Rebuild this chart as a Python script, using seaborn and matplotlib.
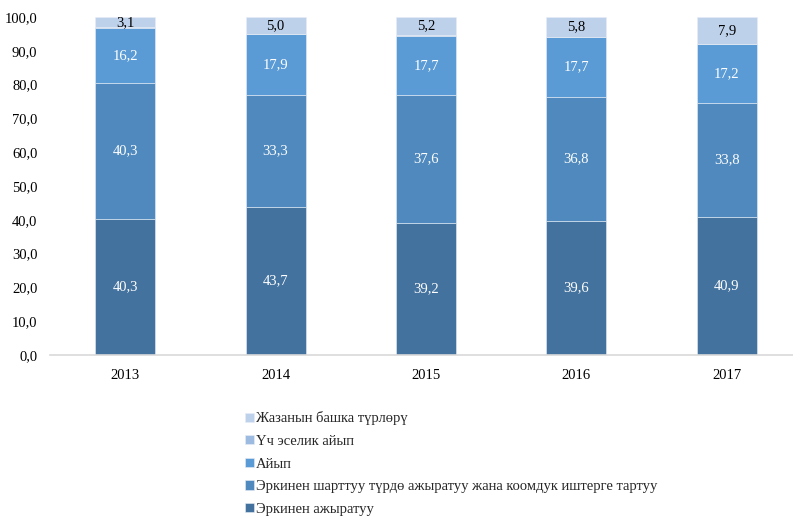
import matplotlib
matplotlib.use("Agg")
import matplotlib.pyplot as plt
import numpy as np
import pandas as pd
import seaborn as sns

years = ["2013", "2014", "2015", "2016", "2017"]

# серии снизу вверх
series_names = [
    "Эркинен ажыратуу",
    "Эркинен шарттуу түрдө ажыратуу жана коомдук иштерге тартуу",
    "Айып",
    "Үч эселик айып",
    "Жазанын башка түрлөрү",
]
deprivation = [40.3, 43.7, 39.2, 39.6, 40.9]
conditional = [40.3, 33.3, 37.6, 36.8, 33.8]
fine = [16.2, 17.9, 17.7, 17.7, 17.2]
triple_fine = [0.1, 0.1, 0.3, 0.1, 0.2]
other = [3.1, 5.0, 5.2, 5.8, 7.9]

colors = ["#43729E", "#4F89BD", "#5A9BD5", "#9DBAE0", "#BDD1EA"]
label_colors = ["white", "white", "white", None, "black"]

sns.set_theme(style="white")
plt.rcParams["font.family"] = ["Liberation Serif", "DejaVu Serif"]

fig = plt.figure(figsize=(7.93, 5.2), dpi=100)
ax = fig.add_axes([50 / 793, 165 / 520, 752 / 793, 338 / 520])

bottom = np.zeros(len(years))
for name, vals, col, lcol in zip(series_names,
                                 [deprivation, conditional, fine, triple_fine, other],
                                 colors, label_colors):
    df = pd.DataFrame({"year": years, "value": vals})
    sns.barplot(data=df, x="year", y="value", order=years, color=col,
                errorbar=None, width=0.4, bottom=bottom, label=name,
                edgecolor="#E8EEF6", linewidth=0.4, saturation=1, ax=ax)
    cont = ax.containers[-1]
    if lcol is not None:
        ax.bar_label(cont, labels=[f"{v:.1f}".replace(".", ",") for v in vals],
                     label_type="center", color=lcol, fontsize=10.5)
    bottom = bottom + np.array(vals)

ax.set_ylim(0, 100)
ax.set_xlim(-0.5, 4.5)
ax.set_yticks(np.arange(0, 101, 10))
ax.set_yticklabels([f"{t:.1f}".replace(".", ",") for t in np.arange(0, 101, 10)])
ax.tick_params(axis="both", labelsize=10.5, length=0, colors="black")
ax.tick_params(axis="y", pad=9)
ax.tick_params(axis="x", pad=10)
ax.set_xlabel("")
ax.set_ylabel("")
for s in ["top", "right", "left"]:
    ax.spines[s].set_visible(False)
ax.spines["bottom"].set_color("#D9D9D9")
ax.spines["bottom"].set_linewidth(1.2)

handles, labels = ax.get_legend_handles_labels()
if ax.get_legend() is not None:
    ax.get_legend().remove()
fig.legend(handles[::-1], labels[::-1], loc="upper left",
           bbox_to_anchor=(238 / 793, 1 - 404 / 520), frameon=False,
           fontsize=10.5, handlelength=0.6, handleheight=0.6,
           handletextpad=0.15, labelspacing=0.66, borderpad=0)

fig.savefig("out.png", dpi=100)
